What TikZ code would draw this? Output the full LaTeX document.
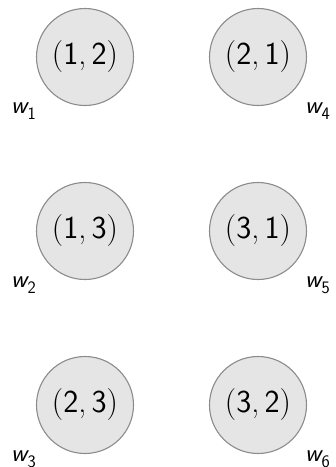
\documentclass[tikz,border=0pt]{standalone}
\begin{document}
\begin{tikzpicture}[x=1pt,y=-1pt,
  vert/.style={circle,draw=black!45,fill=black!10,line width=1.1pt,minimum size=97pt,inner sep=0pt,font=\fontsize{32}{38}\selectfont},
  wlab/.style={inner sep=0pt,font=\fontsize{25}{30}\selectfont}]
\useasboundingbox (0,0) rectangle (336,467);
\node[vert] (v1) at (85,57) {(\textsf{1},\,\textsf{2})};
\node[vert] (v2) at (85,231) {(\textsf{1},\,\textsf{3})};
\node[vert] (v3) at (85,405) {(\textsf{2},\,\textsf{3})};
\node[vert] (v4) at (258,57) {(\textsf{2},\,\textsf{1})};
\node[vert] (v5) at (258,231) {(\textsf{3},\,\textsf{1})};
\node[vert] (v6) at (258,405) {(\textsf{3},\,\textsf{2})};
\node[wlab,anchor=base east] (l1) at ([shift={(-49,56)}]v1.center) {\textsf{\itshape w\kern0.02em\raisebox{-0.25em}{\fontsize{17.5}{20}\selectfont\upshape 1}}};
\node[wlab,anchor=base east] (l2) at ([shift={(-49,56)}]v2.center) {\textsf{\itshape w\kern0.02em\raisebox{-0.25em}{\fontsize{17.5}{20}\selectfont\upshape 2}}};
\node[wlab,anchor=base east] (l3) at ([shift={(-49,56)}]v3.center) {\textsf{\itshape w\kern0.02em\raisebox{-0.25em}{\fontsize{17.5}{20}\selectfont\upshape 3}}};
\node[wlab,anchor=base west] (l4) at ([shift={(47,56)}]v4.center) {\textsf{\itshape w\kern0.02em\raisebox{-0.25em}{\fontsize{17.5}{20}\selectfont\upshape 4}}};
\node[wlab,anchor=base west] (l5) at ([shift={(47,56)}]v5.center) {\textsf{\itshape w\kern0.02em\raisebox{-0.25em}{\fontsize{17.5}{20}\selectfont\upshape 5}}};
\node[wlab,anchor=base west] (l6) at ([shift={(47,56)}]v6.center) {\textsf{\itshape w\kern0.02em\raisebox{-0.25em}{\fontsize{17.5}{20}\selectfont\upshape 6}}};
\end{tikzpicture}
\end{document}
